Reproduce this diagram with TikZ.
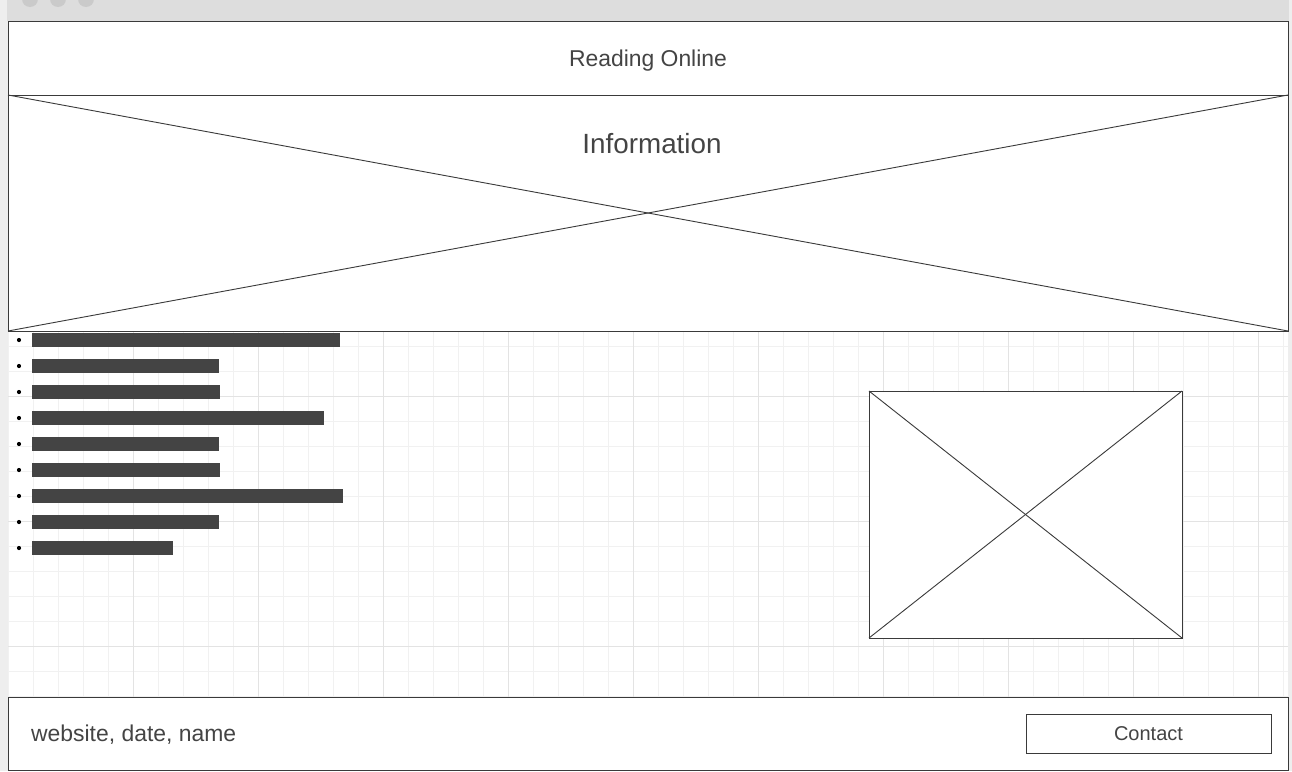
\documentclass[tikz,border=0pt]{standalone}
\usepackage{fontspec}
\setmainfont{Liberation Sans}
\usetikzlibrary{positioning}
\definecolor{ink}{HTML}{444444}
\definecolor{frame}{HTML}{3A3A3A}
\definecolor{chrome}{HTML}{DDDDDD}
\definecolor{side}{HTML}{EEEEEE}
\definecolor{knob}{HTML}{CACACA}
\definecolor{gridminor}{HTML}{F1F1F1}
\definecolor{gridmajor}{HTML}{E3E3E3}

\begin{document}
\begin{tikzpicture}[x=1pt, y=-1pt,
    panel/.style={draw=frame, fill=white, line width=1pt, anchor=north west, inner sep=0pt, outer sep=0pt, text=ink},
    bar/.style={fill=ink, anchor=west, minimum height=13.4pt, inner sep=0pt, outer sep=0pt},
    caption/.style={text=ink, inner sep=0pt},
    cross/.style={draw=frame, line width=0.9pt}]
          \useasboundingbox (0,0) rectangle (1292,771);
          % window chrome
          \fill [side] (0,0) rectangle (1292,771);
          \fill [chrome] (7,0) rectangle (1289,21);
          \fill [white] (8,331) rectangle (1288,697);
          \foreach \cx in {30,58,86} \fill [knob] (\cx,-1) circle (8);
          % grid behind the content
          \begin{scope}
                \clip (8,331) rectangle (1288,697);
                \foreach \k in {0,...,51} \draw [gridminor, line width=1pt] ({8.3+25*\k},331) -- ++(0,366);
                \foreach \k in {0,...,14} \draw [gridminor, line width=1pt] (8,{346.7+25*\k}) -- ++(1280,0);
                \foreach \k in {0,...,9} \draw [gridmajor, line width=1pt] ({133.3+125*\k},331) -- ++(0,366);
                \foreach \k in {0,...,2} \draw [gridmajor, line width=1pt] (8,{396.7+125*\k}) -- ++(1280,0);
          \end{scope}
          % header and banner
          \node[panel, minimum width=1280pt, minimum height=74pt, text depth=0pt, font=\fontsize{22.9}{26}\selectfont] (header) at (8,21) {Reading Online};
          \node[panel, minimum width=1280pt, minimum height=236pt] (info) at (8,95) {};
          \draw [cross] (info.north west) -- (info.south east);
          \draw [cross] (info.south west) -- (info.north east);
          \node[caption, font=\fontsize{27.8}{32}\selectfont, below=38pt of info.north, xshift=4pt] (infotext) {Information};
          % list
          \foreach \w [count=\i] in {340,219,220,324,219,220,343,219,173} {
                \pgfmathsetmacro{\len}{\w-32}
                \pgfmathsetmacro{\yy}{340+26*(\i-1)}
                \fill [black] (19,\yy) circle (2.1);
                \node[bar, minimum width=\len pt] (bar\i) at (32,\yy) {};
          }
          % picture placeholder
          \node[panel, minimum width=313pt, minimum height=247pt] (pic) at (869,391) {};
          \draw [cross] (pic.north west) -- (pic.south east);
          \draw [cross] (pic.south west) -- (pic.north east);
          % footer
          \node[panel, minimum width=1280pt, minimum height=73pt] (footer) at (8,697) {};
          \node[caption, anchor=west, font=\fontsize{22.9}{26}\selectfont] (credits) at (31,735) {website, date, name};
          \node[panel, minimum width=245pt, minimum height=39pt, text height=14.4pt, text depth=0pt, font=\fontsize{20}{24}\selectfont] (contact) at (1026,714) {Contact};
\end{tikzpicture}
\end{document}
